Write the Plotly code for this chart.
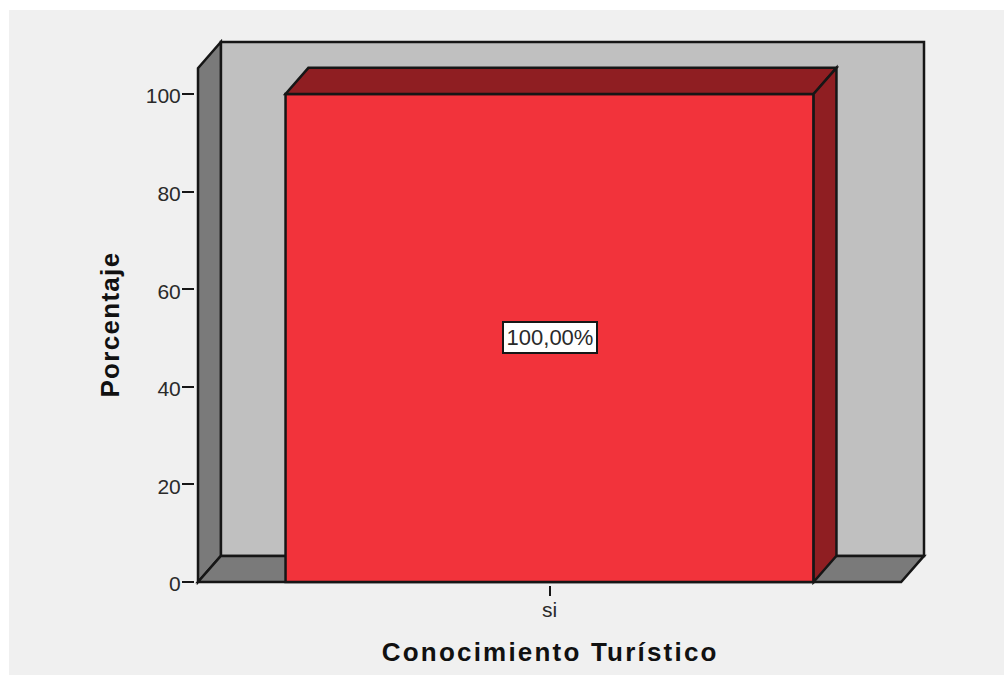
import json
import plotly.graph_objects as go

categories = ["si"]
percentages = [100.0]
value_labels = ["100,00%"]
y_ticks = [0, 20, 40, 60, 80, 100]
x_title = "Conocimiento Turístico"
y_title = "Porcentaje"

BAR_W = 0.751
DX = 0.0325    # depth offset in x units
DY = 5.35      # depth offset in y units
FRONT_TOP = 105.3
XL, XR = -0.5, 0.5
PAD = 3        # px kept round the frame so its outline is not clipped
PX_X = 1 / 703
PX_Y = 100 / 488
INK = "#161616"
PAGE = "#f0f0f0"
L, R, T, B = 198 - PAD, 80 - PAD, 42 - PAD, 93 - PAD
PLOT_W, PLOT_H = 1004 - L - R, 675 - T - B


def poly(points, fill, layer="below"):
    path = "M" + " L".join(f"{x},{y}" for x, y in points) + " Z"
    return dict(type="path", path=path, xref="x", yref="y", fillcolor=fill,
                line=dict(color=INK, width=2.5), layer=layer)


v = percentages[0]
bl, br = -BAR_W / 2, BAR_W / 2

shapes = [
    # page panel
    dict(type="rect", xref="paper", yref="paper", layer="below",
         x0=(9 - L) / PLOT_W, x1=1.2, y0=-0.2, y1=(675 - B - 10) / PLOT_H,
         fillcolor=PAGE, line=dict(width=0)),
    # back wall
    poly([(XL + DX, DY), (XR + DX, DY), (XR + DX, FRONT_TOP + DY), (XL + DX, FRONT_TOP + DY)], "#c0c0c0"),
    # left wall
    poly([(XL, 0), (XL + DX, DY), (XL + DX, FRONT_TOP + DY), (XL, FRONT_TOP)], "#7a7a7a"),
    # floor
    poly([(XL, 0), (XR, 0), (XR + DX, DY), (XL + DX, DY)], "#7a7a7a"),
    # bar top and side
    poly([(bl, v), (br, v), (br + DX, v + DY), (bl + DX, v + DY)], "#8f1e22", "above"),
    poly([(br, 0), (br + DX, DY), (br + DX, v + DY), (br, v)], "#8f1e22", "above"),
]

fig = go.Figure(go.Bar(
    x=[0], y=percentages, width=[BAR_W],
    marker=dict(color="#f2333b", line=dict(color=INK, width=2.5)),
    hoverinfo="skip",
))

fig.update_layout(
    width=1004, height=675,
    margin=dict(l=L, r=R, t=T, b=B),
    paper_bgcolor="white", plot_bgcolor="rgba(0,0,0,0)",
    showlegend=False,
    shapes=shapes,
    font=dict(family="Liberation Sans", color="#2a2a2a", size=21),
    annotations=[
        dict(x=0, y=v / 2, xref="x", yref="y", text=value_labels[0], showarrow=False,
             bgcolor="white", bordercolor=INK, borderwidth=2, borderpad=0,
             width=92, height=29, font=dict(size=22, color="#2a2a2a")),
        dict(x=0, y=(675 - B - 652) / PLOT_H, xref="x", yref="paper",
             xanchor="center", yanchor="middle",
             text=f"<b>{x_title}</b>", showarrow=False,
             font=dict(size=26, color="#111111")),
        dict(x=(110 - L) / PLOT_W, y=FRONT_TOP / 2, xref="paper", yref="y",
             xanchor="center", yanchor="middle",
             text=f"<b>{y_title}</b>", showarrow=False, textangle=-90,
             font=dict(size=26, color="#111111")),
    ],
)
fig.update_xaxes(
    range=[XL - PAD * PX_X, XR + DX + PAD * PX_X], tickvals=[0], ticktext=categories,
    showgrid=False, zeroline=False, showline=False,
    ticks="outside", ticklen=10, tickwidth=2, tickcolor=INK,
    tickfont=dict(size=21), ticklabelstandoff=-4,
)
fig.update_yaxes(
    range=[-PAD * PX_Y, FRONT_TOP + DY + PAD * PX_Y], tickvals=y_ticks,
    showgrid=False, zeroline=False, showline=False,
    ticks="outside", ticklen=12, tickwidth=2, tickcolor=INK,
    tickfont=dict(size=21), ticklabelstandoff=-3, ticklabelshift=2,
)

spacing = json.dumps({x_title: "2.2px", y_title: "1.3px"})
post = """
var gd = document.getElementById('{plot_id}');
var spacing = %s;
document.body.style.margin = '0';
document.body.style.overflow = 'hidden';
function spaceTitles() {
  gd.querySelectorAll('.annotation-text').forEach(function (t) {
    var s = spacing[t.textContent];
    if (s) { t.style.letterSpacing = s; }
  });
}
gd.on('plotly_afterplot', spaceTitles);
spaceTitles();
setTimeout(spaceTitles, 0);
""" % spacing

fig.write_html("out.html", post_script=post, config=dict(displayModeBar=False))
